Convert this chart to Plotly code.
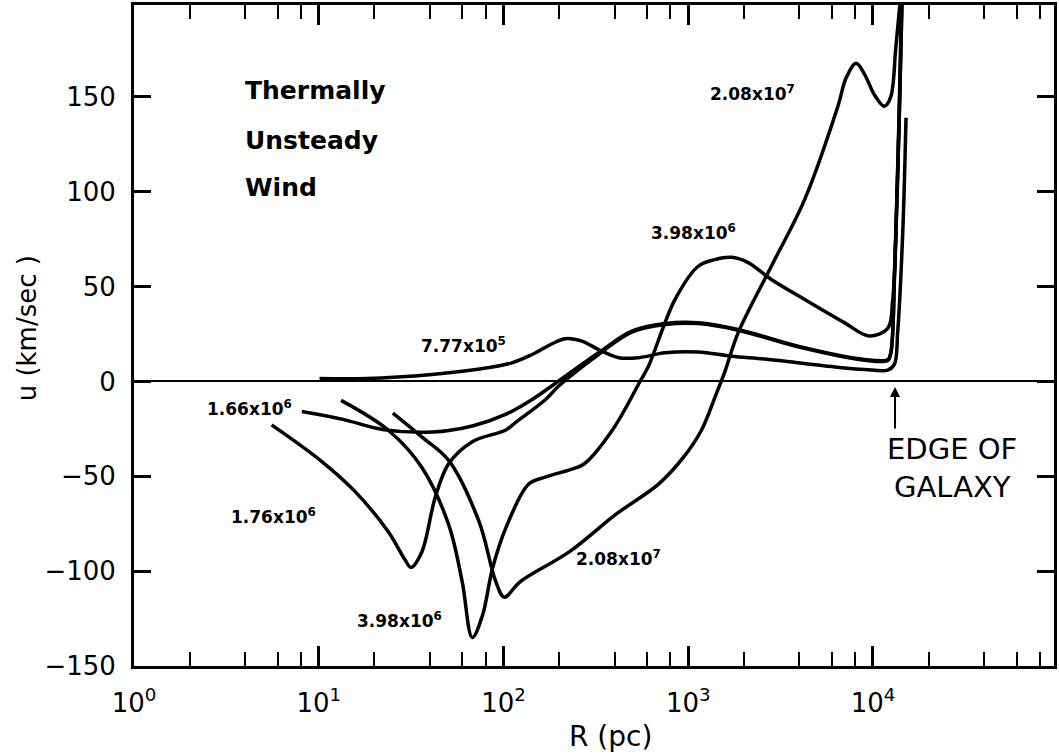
import plotly.graph_objects as go

# ---------------- data ----------------
# 7.77x10^5
r_a = [10.1, 18, 41, 71, 111, 143, 185, 216, 266, 327, 420, 538, 750, 1130, 1714, 2600, 3926, 6000, 8995, 12020, 13060, 13610, 14490, 15100]
u_a = [1.6, 1.6, 3.7, 6.3, 9.8, 14.2, 20, 22.5, 21.2, 16.8, 12.5, 12.5, 15.1, 15.5, 13.3, 11.8, 9.8, 7.8, 6.3, 6.0, 9, 26, 78, 139]
# 1.66x10^6
r_b = [8.1, 13.5, 22.1, 41.2, 67.8, 102.6, 143, 199, 327, 495, 750, 1133, 1862, 3926, 8995, 12020, 12480, 13110, 13940, 14400]
u_b = [-15.9, -20, -25.3, -26.7, -23.5, -17.4, -9.5, 0.2, 15.1, 26.5, 30.5, 30.9, 27.4, 18.6, 11.6, 11.5, 15, 60, 148, 205]
# 1.76x10^6
r_c = [5.56, 10.2, 15.6, 23.7, 29.3, 31.5, 36.1, 42.7, 50.5, 67.8, 103, 116, 169, 199, 327, 495, 750, 1133, 1862, 3926, 8995, 12020, 12480, 13110, 13940, 14400]
u_c = [-22.9, -41.6, -57.7, -79, -94, -98, -90, -61.2, -43.4, -31.8, -25.6, -21.7, -9.5, -2.4, 14.2, 26, 30, 30.5, 27, 18.2, 11.2, 11.0, 14.5, 58, 146, 205]
# 3.98x10^6
r_d = [13.2, 23.7, 36.1, 50.5, 59.8, 67.8, 76.9, 87.2, 103, 137, 168, 239, 274, 389, 556, 609, 849, 1133, 1393, 1714, 2111, 2818, 4266, 7000, 9500, 12020, 12790, 13610, 14300]
u_d = [-10, -25.6, -45.2, -75.5, -105.7, -135, -123.5, -98.6, -77.2, -54.1, -50.5, -46, -43.4, -25.6, 1, 8, 43.2, 60.7, 64.2, 65.4, 62.6, 53.7, 43.2, 31, 24, 28, 43, 113, 205]
# 2.08x10^7
r_e = [25.2, 36.1, 50.5, 73.6, 91, 101, 123, 229, 407, 693, 946, 1181, 1400, 1578, 1862, 2818, 4266, 6460, 7161, 8110, 8995, 10190, 11530, 12480, 13270, 13900, 14500]
u_e = [-16.7, -29.2, -41.6, -73.7, -105.7, -113.7, -105.6, -89.6, -70, -54, -39.8, -25.6, -8, 5, 25.6, 60.7, 95.8, 145, 160, 167.7, 162, 151, 145, 150, 175, 196, 215]

x_tickvals = [1, 10, 100, 1000, 10000]
x_ticktext = ["10<sup>0</sup>", "10<sup>1</sup>", "10<sup>2</sup>", "10<sup>3</sup>", "10<sup>4</sup>"]
x_minorvals = [m * 10 ** k for k in range(5) for m in (2, 4, 6, 8)]
y_tickvals = [-150, -100, -50, 0, 50, 100, 150]

FONT = "DejaVu Sans"
W, H = 1059, 756
L, R, T, B = 134, 2, 5, 90
PW, PH = W - L - R, H - T - B


def px(x, y):
    return (x - L) / PW, (H - B - y) / PH


fig = go.Figure()
for rr, uu in [(r_a, u_a), (r_b, u_b), (r_c, u_c), (r_d, u_d), (r_e, u_e)]:
    fig.add_trace(go.Scatter(x=rr, y=uu, mode="lines",
                             line=dict(color="black", width=3.5, shape="spline", smoothing=1.0),
                             showlegend=False, hoverinfo="skip"))

fig.update_layout(
    width=W, height=H,
    margin=dict(l=L, r=R, t=T, b=B),
    paper_bgcolor="white", plot_bgcolor="white",
    font=dict(family=FONT, color="black", size=26),
)
fig.update_xaxes(
    type="log", range=[0, 4.98],
    tickvals=x_tickvals, ticktext=x_ticktext,
    ticks="inside", ticklen=20, tickwidth=2.5, tickcolor="black",
    showline=True, linewidth=3, linecolor="black", mirror="ticks",
    showgrid=False, zeroline=False,
    tickfont=dict(size=26), ticklabelstandoff=12,
    minor=dict(tickvals=x_minorvals, ticks="inside", ticklen=14, tickwidth=2, tickcolor="black", showgrid=False),
)
fig.update_yaxes(
    range=[-150, 198.4],
    tickvals=y_tickvals,
    ticks="inside", ticklen=17, tickwidth=2.5, tickcolor="black",
    showline=True, linewidth=3, linecolor="black", mirror="ticks",
    showgrid=False, zeroline=True, zerolinecolor="black", zerolinewidth=2,
    tickfont=dict(size=26), ticklabelstandoff=10,
)

ann = []


def text(s, x, y, size, xanchor="center", bold=False, **kw):
    xp, yp = px(x, y)
    ann.append(dict(text=s, x=xp, y=yp, xref="paper", yref="paper", xanchor=xanchor, yanchor="middle",
                    showarrow=False,
                    font=dict(family=FONT, size=size, color="black", weight="bold" if bold else "normal"), **kw))


text("Thermally", 243, 90, 25, xanchor="left", bold=True)
text("Unsteady", 243, 140, 25, xanchor="left", bold=True)
text("Wind", 243, 187, 25, xanchor="left", bold=True)
text("2.08x10<sup>7</sup>", 755, 93, 17, bold=True)
text("3.98x10<sup>6</sup>", 695, 232, 17, bold=True)
text("7.77x10<sup>5</sup>", 465, 345, 17, bold=True)
text("1.66x10<sup>6</sup>", 250, 408, 17, bold=True)
text("1.76x10<sup>6</sup>", 274, 516, 17, bold=True)
text("3.98x10<sup>6</sup>", 400, 620, 17, bold=True)
text("2.08x10<sup>7</sup>", 620, 558, 17, bold=True)
text("EDGE OF", 955, 449, 29)
text("GALAXY", 955, 487, 29)
text("R (pc)", 612, 736, 28)
text("u (km/sec )", 27, 328, 26, textangle=-90)

# arrow for edge of galaxy
xa, ya = px(897.5, 387)
ann.append(dict(text="", x=xa, y=ya, xref="paper", yref="paper", ax=0, ay=43, axref="pixel", ayref="pixel",
                showarrow=True, arrowhead=2, arrowsize=1, arrowwidth=2, arrowcolor="black"))
fig.update_layout(annotations=ann)

fig.write_html("out.html")
